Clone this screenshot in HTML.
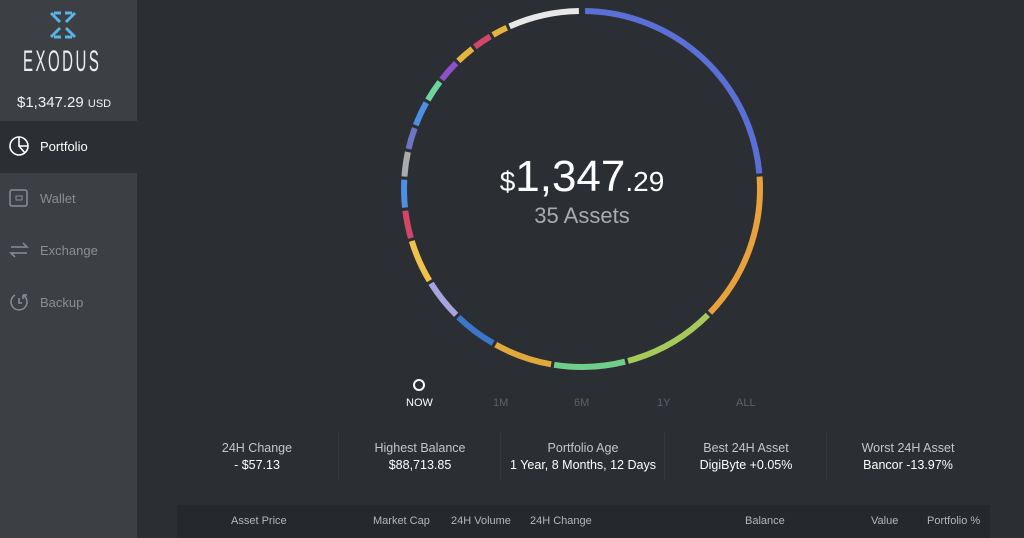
<!DOCTYPE html>
<html><head><meta charset="utf-8"><style>
*{margin:0;padding:0;box-sizing:border-box}
body{width:1024px;height:538px;overflow:hidden;background:#2b2e33;font-family:"Liberation Sans",sans-serif;position:relative}
#side{position:absolute;left:0;top:0;width:137px;height:538px;background:#3c4045}
.nav{position:absolute;left:0;width:137px;height:52px;color:#8a8e93;font-size:13px}
.nav span{position:absolute;left:40px;top:18px}
.nav svg{position:absolute;left:8px;top:14px}
.abs{position:absolute}
.stat{position:absolute;top:441px;width:160px;text-align:center;color:#c4c7ca;font-size:12.5px;font-family:"Liberation Sans Narrow","Liberation Sans",sans-serif}
.stat b{display:block;color:#fff;font-weight:normal;font-size:12.5px;margin-top:3px}
.sep{position:absolute;top:432px;width:1px;height:48px;background:#34383d}
.th{position:absolute;top:515px;color:#b4b7ba;font-size:11px;font-family:"Liberation Sans Narrow","Liberation Sans",sans-serif}
.per{position:absolute;top:397px;font-size:11px;color:#5d6166}
</style></head><body>
<div id="side">
 <svg class="abs" style="left:48px;top:10px" width="30" height="30" viewBox="0 0 30 30"><g stroke="#5ab3e6" stroke-width="3" fill="none"><path d="M3 3L12 12M27 3L18 12M3 27L12 18M27 27L18 18M6 3H13M17 3H24M6 27H13M17 27H24"/></g></svg>
 <div class="abs" style="left:23px;top:45px;color:#eee;font-size:30px;letter-spacing:5px;transform:scaleX(0.5);transform-origin:left top;white-space:nowrap">EXODUS</div>
 <div class="abs" style="left:17px;top:94px;color:#f2f2f2;font-size:15px">$1,347.29 <span style="font-size:11px">USD</span></div>
 <div class="nav" style="top:121px;background:#2b2e32;color:#fff"><svg width="22" height="22" viewBox="0 0 22 22"><circle cx="11" cy="11" r="9" stroke="#fff" stroke-width="1.6" fill="none"/><path d="M11 2V11H20M11 11L17 18" stroke="#fff" stroke-width="1.6" fill="none"/></svg><span>Portfolio</span></div>
 <div class="nav" style="top:173px"><svg width="22" height="22" viewBox="0 0 22 22"><rect x="2" y="3" width="17" height="16" rx="2" stroke="#8a8e93" stroke-width="1.5" fill="none"/><rect x="8" y="9" width="6" height="4" stroke="#8a8e93" fill="none"/></svg><span>Wallet</span></div>
 <div class="nav" style="top:225px"><svg width="22" height="22" viewBox="0 0 22 22"><path d="M3 8H19L15 4M19 14H3L7 18" stroke="#8a8e93" stroke-width="1.5" fill="none"/></svg><span>Exchange</span></div>
 <div class="nav" style="top:277px"><svg width="22" height="22" viewBox="0 0 22 22"><path d="M7 4A8 8 0 1 0 15 4M15 4V8M15 4H19M11 7V12H14" stroke="#8a8e93" stroke-width="1.5" fill="none"/></svg><span>Backup</span></div>
</div>
<svg id="ring" class="abs" style="left:0;top:0" width="1024" height="400"></svg>
<div class="abs" style="left:482px;top:152px;width:200px;text-align:center;color:#fff;font-size:44px;font-weight:300"><span style="font-size:28px">$</span>1,347<span style="font-size:28px">.29</span></div>
<div class="abs" style="left:482px;top:203px;width:200px;text-align:center;color:#a8abaf;font-size:22px">35 Assets</div>
<div class="abs" style="left:413px;top:379px;width:12px;height:12px;border:2px solid #fff;border-radius:50%"></div>
<div class="per" style="left:406px;color:#fff">NOW</div>
<div class="per" style="left:493px">1M</div>
<div class="per" style="left:574px">6M</div>
<div class="per" style="left:657px">1Y</div>
<div class="per" style="left:736px">ALL</div>
<div class="stat" style="left:177px">24H Change<b>- $57.13</b></div>
<div class="stat" style="left:340px">Highest Balance<b>$88,713.85</b></div>
<div class="stat" style="left:503px">Portfolio Age<b>1 Year, 8 Months, 12 Days</b></div>
<div class="stat" style="left:666px">Best 24H Asset<b>DigiByte +0.05%</b></div>
<div class="stat" style="left:828px">Worst 24H Asset<b>Bancor -13.97%</b></div>
<div class="sep" style="left:338px"></div><div class="sep" style="left:500px"></div><div class="sep" style="left:664px"></div><div class="sep" style="left:826px"></div>
<div class="abs" style="left:177px;top:505px;width:813px;height:33px;background:#25282c"></div>
<div class="th" style="left:231px">Asset Price</div>
<div class="th" style="left:373px">Market Cap</div>
<div class="th" style="left:451px">24H Volume</div>
<div class="th" style="left:530px">24H Change</div>
<div class="th" style="left:745px">Balance</div>
<div class="th" style="left:871px">Value</div>
<div class="th" style="left:927px">Portfolio %</div>
<script>
const segStart=[1,86,135,166,190,210,225,239,254,264,274,283,291,300,308,316,323,330,336];
const segEnd=[85,134,165,189,209,224,238,253,263,273,282,290,299,307,315,322,329,335,359];
const segColor=["#5b6fd6","#e9a23b","#a6c95a","#6fcf8a","#e0a93a","#3b76c9","#a8a4e0","#f1c24a","#d2466a","#4d8fe0","#a9abad","#6d75c2","#4d8fe0","#6dd49c","#8c52c9","#e3b53c","#d2466a","#e3b53c","#e8e8e8"];
const cx=582,cy=189,r=178;
const svg=document.getElementById('ring');
function pt(a){const t=(a-90)*Math.PI/180;return [cx+r*Math.cos(t),cy+r*Math.sin(t)];}
for(let i=0;i<segStart.length;i++){
 const p=document.createElementNS('http://www.w3.org/2000/svg','path');
 const [x1,y1]=pt(segStart[i]),[x2,y2]=pt(segEnd[i]);
 const large=(segEnd[i]-segStart[i])>180?1:0;
 p.setAttribute('d',`M${x1} ${y1}A${r} ${r} 0 ${large} 1 ${x2} ${y2}`);
 p.setAttribute('stroke',segColor[i]);p.setAttribute('stroke-width','6');p.setAttribute('fill','none');
 
 
 svg.appendChild(p);
}
</script>
</body></html>
